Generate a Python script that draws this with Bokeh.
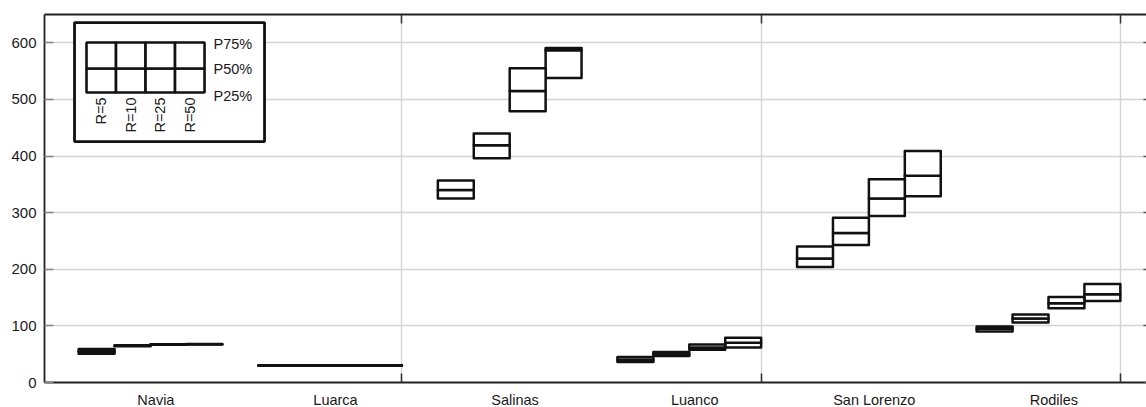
import numpy as np
from bokeh.plotting import figure
from bokeh.models import FixedTicker, LinearAxis, CustomJSTickFormatter, ColumnDataSource
from bokeh.core.properties import value
from bokeh.embed import file_html
from bokeh.resources import INLINE

# Sites along the coast and the return periods (years) for each box
sites = ["Navia", "Luarca", "Salinas", "Luanco", "San Lorenzo", "Rodiles"]
return_periods = ["R=5", "R=10", "R=25", "R=50"]

# Percentiles per site (rows) and return period (columns)
p25 = [
    [51, 64, 66.5, 67],
    [29.5, 29.5, 29.5, 29.5],
    [325, 396, 479, 538],
    [36, 47, 58, 62],
    [204, 243, 294, 329],
    [90, 106, 131, 144],
]
p50 = [
    [55, 65, 67, 67.5],
    [30, 30, 30, 30],
    [340, 419, 515, 587],
    [40, 50, 62, 70],
    [219, 264, 325, 365],
    [95, 113, 140, 156],
]
p75 = [
    [59, 66, 67.5, 68],
    [30.5, 30.5, 30.5, 30.5],
    [357, 440, 555, 591],
    [45, 54, 67, 79],
    [240, 291, 359, 409],
    [99, 120, 151, 174],
]

y_ticks = [0, 100, 200, 300, 400, 500, 600]
pair_dividers = [2.4, 4.4, 6.4]
percentile_names = ["P75%", "P50%", "P25%"]

FONT = "Liberation Sans"
INK = "#111111"
TEXT = "#1a1a1a"

# Box geometry: four boxes per site, each 0.2 wide, centred on the site index
n_sites, n_r = len(sites), len(return_periods)
site_pos = np.arange(1, n_sites + 1)
box_w = 0.2
lefts = (site_pos[:, None] - 0.4 + box_w * np.arange(n_r)[None, :]).ravel()
rights = lefts + box_w
q25 = np.array(p25, dtype=float).ravel()
q50 = np.array(p50, dtype=float).ravel()
q75 = np.array(p75, dtype=float).ravel()

x_start = 0.4098
x_end = 6.5457

p = figure(
    frame_width=1102, frame_height=368,
    x_range=(x_start, x_end), y_range=(0, 650),
    output_backend="svg", toolbar_location=None,
    min_border_left=44, min_border_top=14, min_border_bottom=25, min_border_right=0,
    background_fill_color="white", border_fill_color="white",
    outline_line_color=None,
)

# grid
p.ygrid.ticker = FixedTicker(ticks=y_ticks)
p.xgrid.ticker = FixedTicker(ticks=pair_dividers)
for g in (p.xgrid, p.ygrid):
    g.grid_line_color = "#d4d4d4"
    g.grid_line_width = 1.5

# left axis
ya = p.yaxis[0]
ya.ticker = FixedTicker(ticks=y_ticks)
ya.axis_line_color = "#222222"
ya.axis_line_width = 1.8
ya.major_tick_in = 9
ya.major_tick_out = 0
ya.major_tick_line_color = "#888888"
ya.major_tick_line_width = 1.5
ya.minor_tick_line_color = None
ya.major_label_text_font = FONT
ya.major_label_text_font_size = "15px"
ya.major_label_text_color = TEXT
ya.major_label_standoff = 8

# bottom axis: site names, inward marks at the pair dividers
xa = p.xaxis[0]
label_pos = [s + 0.03 for s in site_pos]
xa.ticker = FixedTicker(ticks=label_pos, minor_ticks=pair_dividers)
xa.formatter = CustomJSTickFormatter(args=dict(names=sites), code="return names[index];")
xa.axis_line_color = "#222222"
xa.axis_line_width = 1.8
xa.major_tick_in = 0
xa.major_tick_out = 0
xa.minor_tick_in = 9
xa.minor_tick_out = 0
xa.minor_tick_line_color = "#333333"
xa.minor_tick_line_width = 1.5
xa.major_label_text_font = FONT
xa.major_label_text_font_size = "14.5px"
xa.major_label_text_color = TEXT
xa.major_label_standoff = 9

# top spine with the same inward marks (no labels)
top = LinearAxis(
    ticker=FixedTicker(ticks=[], minor_ticks=pair_dividers),
    axis_line_color="#222222", axis_line_width=1.8,
    major_tick_in=0, major_tick_out=0,
    minor_tick_in=9, minor_tick_out=0,
    minor_tick_line_color="#333333", minor_tick_line_width=1.5,
    major_label_standoff=0,
)
p.add_layout(top, "above")

# right side: short inward marks only (no labels)
right = LinearAxis(
    ticker=FixedTicker(ticks=[], minor_ticks=y_ticks),
    axis_line_color=None,
    major_tick_in=0, major_tick_out=0,
    minor_tick_in=3, minor_tick_out=0,
    minor_tick_line_color="#555555", minor_tick_line_width=1.5,
    major_label_standoff=0,
)
p.add_layout(right, "right")

# percentile boxes: lower half P25-P50, upper half P50-P75
src = ColumnDataSource(dict(left=lefts, right=rights, q25=q25, q50=q50, q75=q75))
box_style = dict(fill_color="white", line_color=INK, line_width=2.5, line_join="round")
p.quad(left="left", right="right", bottom="q25", top="q50", source=src, **box_style)
p.quad(left="left", right="right", bottom="q50", top="q75", source=src, **box_style)

# key in the upper-left corner
key_left, key_right, key_bottom, key_top = 0.577, 1.635, 425.6, 635.8
p.quad(left=[key_left], right=[key_right], bottom=[key_bottom], top=[key_top],
       fill_color="white", line_color=INK, line_width=2.8)

cell_x0, cell_w = 0.6437, 0.1643
row_edges = [512.2, 554.6, 600.5]
cl = cell_x0 + cell_w * np.arange(n_r)
p.quad(left=np.concatenate([cl, cl]), right=np.concatenate([cl, cl]) + cell_w,
       bottom=[row_edges[0]] * n_r + [row_edges[1]] * n_r,
       top=[row_edges[1]] * n_r + [row_edges[2]] * n_r,
       fill_color="white", line_color=INK, line_width=2.6)

p.text(x=[1.3508] * 3, y=[598.7, 554.6, 506.9], text=percentile_names,
       text_font=value(FONT), text_font_size="14.5px", text_color=TEXT,
       text_align="left", text_baseline="middle")

p.text(x=cl + cell_w / 2, y=[503.4] * n_r, text=return_periods, angle=np.pi / 2,
       text_font=value(FONT), text_font_size="14.5px", text_color=TEXT,
       text_align="right", text_baseline="middle")

open("out.html", "w").write(file_html(p, INLINE))
